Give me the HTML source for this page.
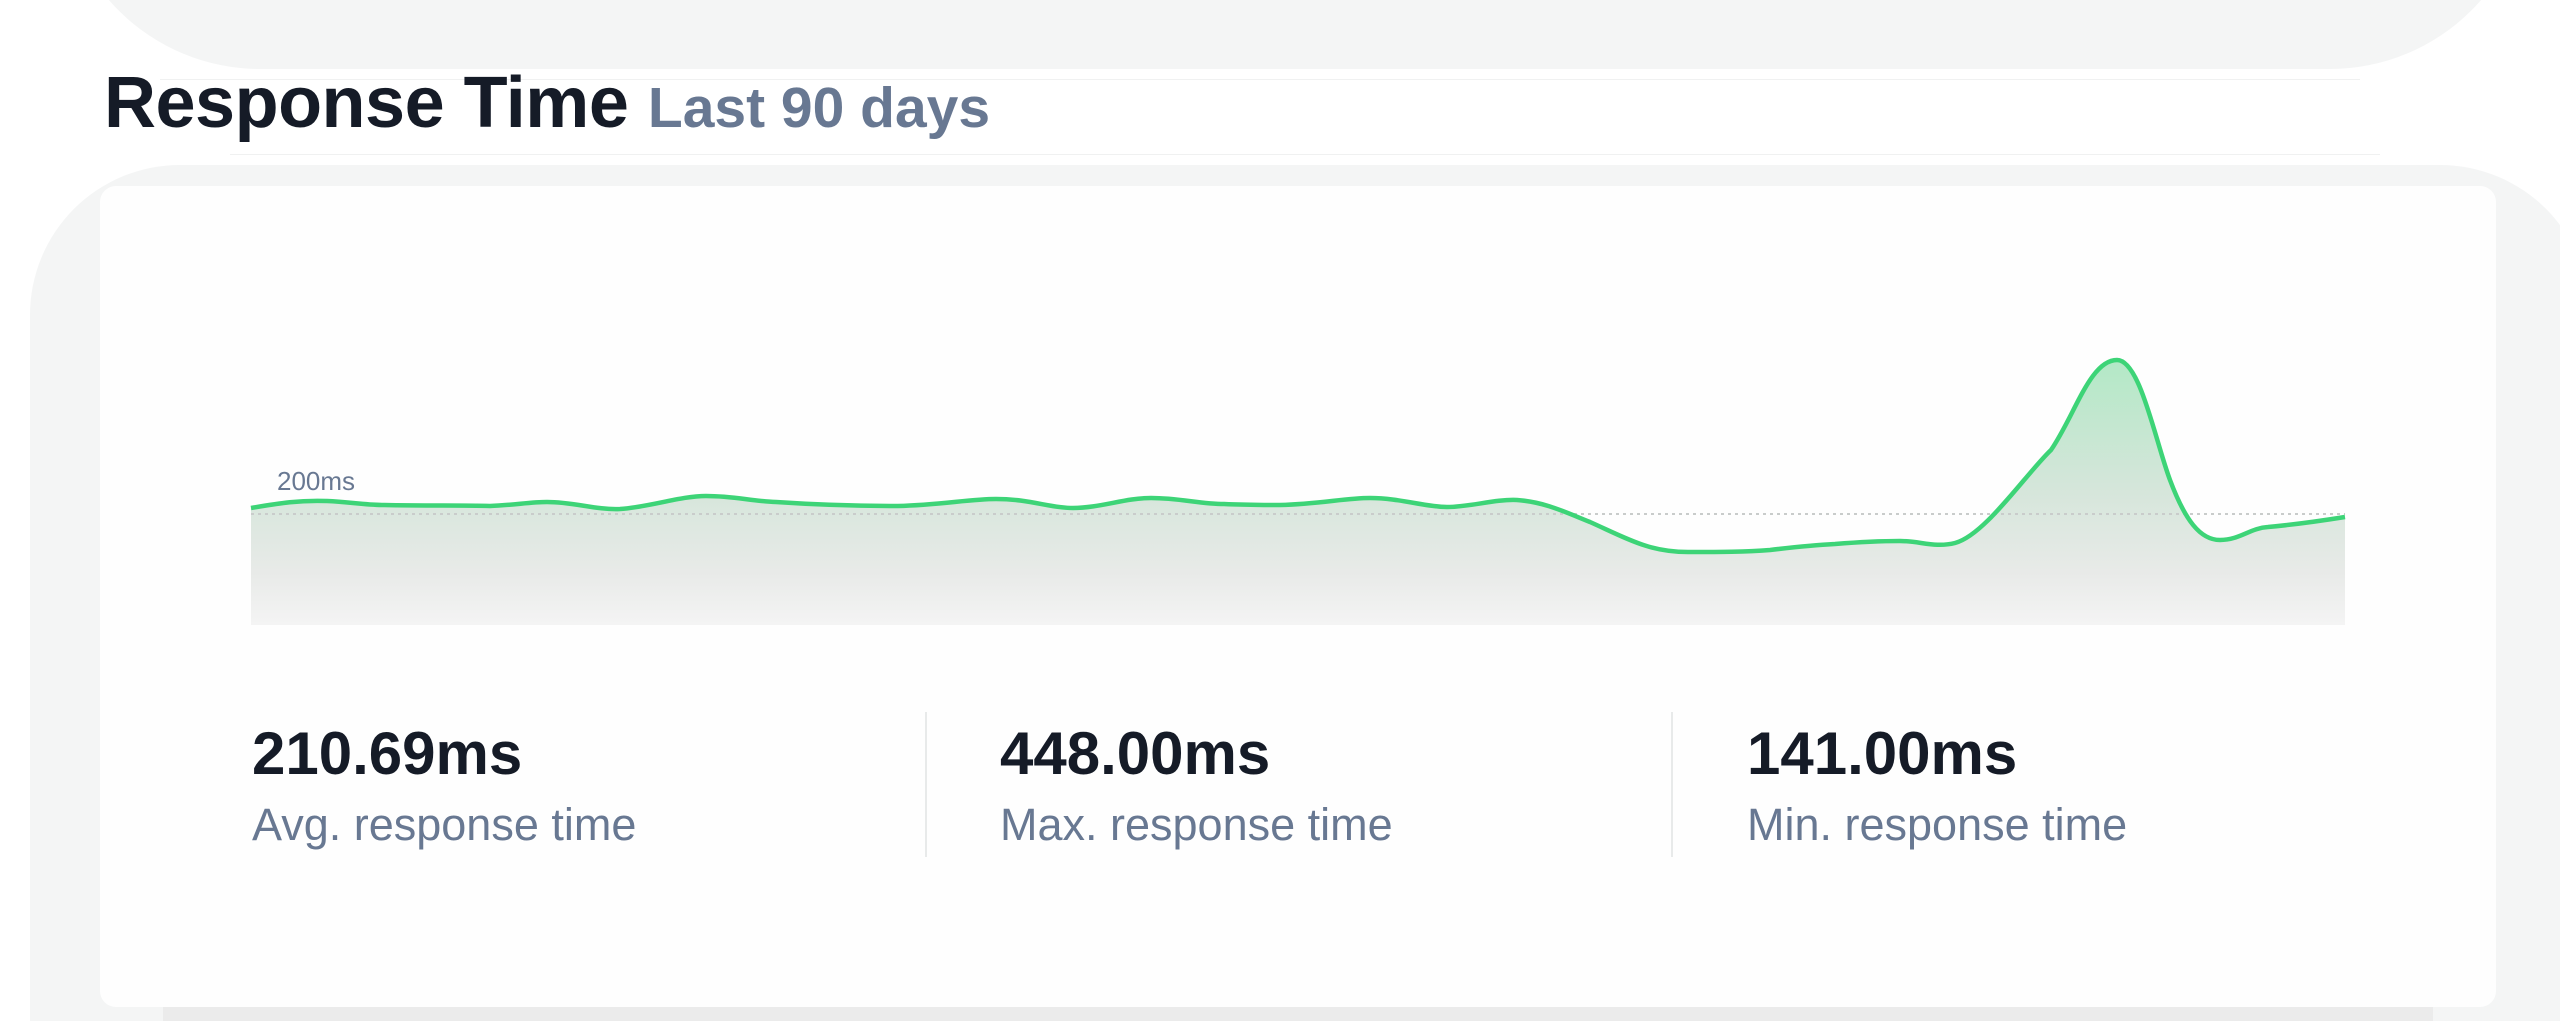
<!DOCTYPE html>
<html><head><meta charset="utf-8"><style>
html,body{margin:0;padding:0;width:2560px;height:1021px;overflow:hidden;background:#fff;font-family:"Liberation Sans",Arial,sans-serif;position:relative}
.abs{position:absolute}
</style></head><body>
<div class="abs" style="left:60px;top:-200px;width:2470px;height:269px;background:#f4f5f5;border-radius:0 0 200px 200px"></div>
<div class="abs" style="left:160px;top:79px;width:2200px;height:1px;background:#f0f1f1"></div>
<div class="abs" style="left:230px;top:154px;width:2150px;height:1px;background:#f0f1f1"></div>
<div class="abs" style="left:104px;top:62px;white-space:nowrap;color:#151b27;font-weight:bold;font-size:72px;letter-spacing:-0.5px">Response Time <span style="color:#687892;font-size:57px;letter-spacing:0">Last 90 days</span></div>
<div class="abs" style="left:30px;top:165px;width:2560px;height:900px;background:#f4f5f5;border-radius:150px 150px 0 0"></div>
<div class="abs" style="left:163px;top:990px;width:2270px;height:40px;background:#ebebeb"></div>
<div class="abs" style="left:100px;top:186px;width:2396px;height:821px;background:#fefefe;border-radius:16px"></div>
<svg class="abs" style="left:0;top:0" width="2560" height="1021">
<defs><linearGradient id="g" gradientUnits="userSpaceOnUse" x1="0" y1="361" x2="0" y2="625">
<stop offset="0" stop-color="#b3e8c6"/><stop offset="0.5" stop-color="#d6e6db"/><stop offset="0.8" stop-color="#e8eae8"/><stop offset="1" stop-color="#f4f4f4"/></linearGradient></defs>
<path d="M251,508 C280,503 300,500 327,501 C350,502 365,505 384,505 C430,506 460,505 490,506 C515,505 530,502 547,502 C575,502 595,510 620,509 C650,507 680,496 706,496 C735,496 750,501 776,502 C820,505 860,506 898,506 C940,505 970,499 996,499 C1030,499 1050,508 1073,508 C1100,508 1125,498 1151,498 C1180,498 1200,504 1224,504 C1245,505 1260,505 1280,505 C1320,504 1345,498 1370,498 C1400,498 1425,507 1447,507 C1470,507 1495,499 1517,500 C1545,502 1565,512 1590,522 C1630,540 1650,552 1688,552 C1720,552 1745,552 1770,550 C1795,547 1815,545 1835,544 C1860,542 1880,541 1900,541 C1920,541 1935,548 1955,543 C1985,535 2025,475 2051,450 C2075,415 2090,360 2117,360 C2140,360 2155,440 2170,480 C2185,520 2200,540 2220,540 C2240,540 2250,528 2268,527 C2290,525 2320,521 2345,517 L2345,625 L251,625 Z" fill="url(#g)" stroke="none"/>
<line x1="251" y1="514" x2="2345" y2="514" stroke="#c9cccb" stroke-width="2" stroke-dasharray="3,4"/>
<path d="M251,508 C280,503 300,500 327,501 C350,502 365,505 384,505 C430,506 460,505 490,506 C515,505 530,502 547,502 C575,502 595,510 620,509 C650,507 680,496 706,496 C735,496 750,501 776,502 C820,505 860,506 898,506 C940,505 970,499 996,499 C1030,499 1050,508 1073,508 C1100,508 1125,498 1151,498 C1180,498 1200,504 1224,504 C1245,505 1260,505 1280,505 C1320,504 1345,498 1370,498 C1400,498 1425,507 1447,507 C1470,507 1495,499 1517,500 C1545,502 1565,512 1590,522 C1630,540 1650,552 1688,552 C1720,552 1745,552 1770,550 C1795,547 1815,545 1835,544 C1860,542 1880,541 1900,541 C1920,541 1935,548 1955,543 C1985,535 2025,475 2051,450 C2075,415 2090,360 2117,360 C2140,360 2155,440 2170,480 C2185,520 2200,540 2220,540 C2240,540 2250,528 2268,527 C2290,525 2320,521 2345,517" fill="none" stroke="#3dd477" stroke-width="4.5"/>
<text x="277" y="490" font-family="Liberation Sans, sans-serif" font-size="26" fill="#687892">200ms</text>
<line x1="926" y1="712" x2="926" y2="857" stroke="#e8eaea" stroke-width="2"/>
<line x1="1672" y1="712" x2="1672" y2="857" stroke="#e8eaea" stroke-width="2"/>
<g font-family="Liberation Sans, sans-serif">
<text x="252" y="774" font-size="60" font-weight="bold" fill="#151b27">210.69ms</text>
<text x="1000" y="774" font-size="60" font-weight="bold" fill="#151b27">448.00ms</text>
<text x="1747" y="774" font-size="60" font-weight="bold" fill="#151b27">141.00ms</text>
<text x="252" y="840" font-size="45" fill="#687892">Avg. response time</text>
<text x="1000" y="840" font-size="45" fill="#687892">Max. response time</text>
<text x="1747" y="840" font-size="45" fill="#687892">Min. response time</text>
</g>
</svg>
</body></html>
